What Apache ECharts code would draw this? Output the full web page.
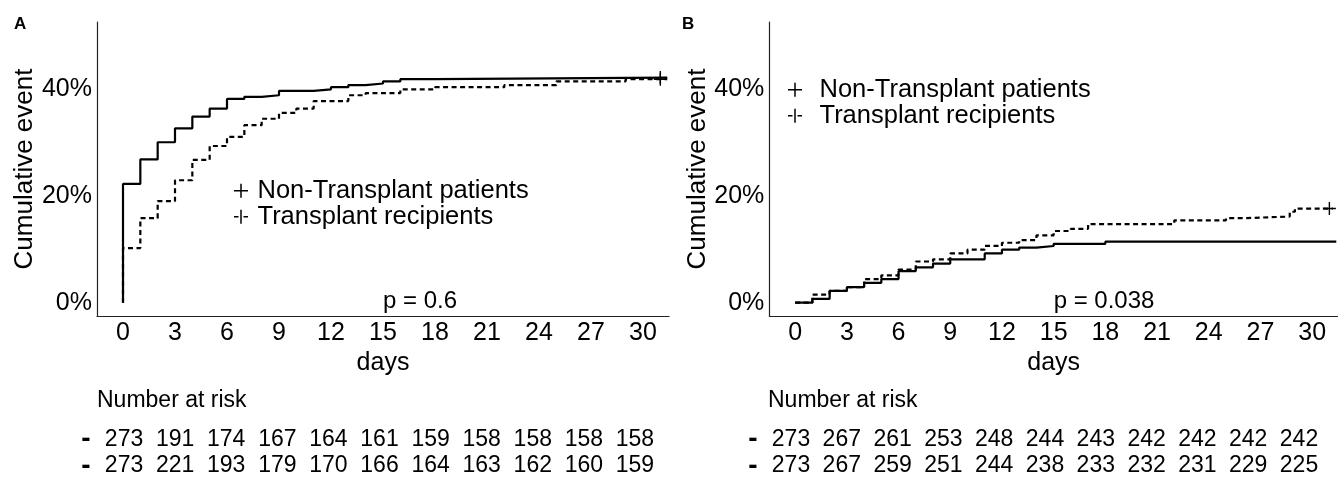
<!DOCTYPE html>
<html>
<head>
<meta charset="utf-8">
<script src="https://cdn.jsdelivr.net/npm/echarts@6/dist/echarts.min.js"></script>
<style>html,body{margin:0;padding:0;background:#fff}#c{width:1338px;height:485px}</style>
</head>
<body>
<div id="c"></div>
<script>
// ---- data ----
const seriesNames = ['Non-Transplant patients', 'Transplant recipients'];
const xTicks = [0, 3, 6, 9, 12, 15, 18, 21, 24, 27, 30];
const yTicks = [0, 20, 40];

// Panel A (cumulative event, %)
const daysA_nonTx = [0, 0, 1, 2, 3, 4, 5, 6, 7, 8, 9, 11, 12, 13, 14, 15, 16, 18, 31.4];
const pctA_nonTx  = [0, 22.2, 26.8, 30.0, 32.6, 34.8, 36.3, 38.1, 38.5, 38.8, 39.6, 39.9, 40.3, 40.7, 41.0, 41.4, 41.8, 42.1, 42.1];
const daysA_tx = [0, 0, 1, 2, 3, 4, 5, 6, 7, 8, 9, 10, 11, 13, 14, 16, 18, 22, 25, 29, 31.4];
const pctA_tx  = [0, 10.2, 15.8, 19.0, 22.9, 26.7, 29.3, 31.0, 33.2, 34.4, 35.5, 36.3, 37.7, 38.8, 39.2, 39.9, 40.3, 40.7, 41.4, 41.8, 41.8];
const censorA = [[31, 42.1], [31, 41.8]];

// Panel B
const daysB_nonTx = [0, 1, 2, 3, 4, 5, 6, 7, 8, 9, 11, 12, 13, 14, 15, 18, 31.4];
const pctB_nonTx  = [0, 0.7, 2.2, 2.9, 3.7, 4.4, 5.9, 6.6, 7.3, 8.1, 9.2, 9.9, 10.3, 10.6, 11.0, 11.4, 11.4];
const daysB_tx = [0, 1, 2, 3, 4, 5, 6, 7, 8, 9, 10, 11, 12, 13, 14, 15, 16, 17, 22, 25, 26, 28.7, 29, 31.2];
const pctB_tx  = [0, 1.5, 2.2, 2.9, 4.4, 5.1, 6.2, 7.7, 8.1, 9.2, 9.9, 10.6, 11.2, 11.7, 12.6, 13.4, 13.8, 14.7, 15.4, 15.8, 16.1, 17.0, 17.6, 17.6];
const censorB = [[31, 17.6]];

const pvalA = 'p = 0.6';
const pvalB = 'p = 0.038';
const pvalPos = [15, 0.3];

// Number at risk
const riskDays = [0, 3, 6, 9, 12, 15, 18, 21, 24, 27, 30];
const riskA_nonTx = [273, 191, 174, 167, 164, 161, 159, 158, 158, 158, 158];
const riskA_tx    = [273, 221, 193, 179, 170, 166, 164, 163, 162, 160, 159];
const riskB_nonTx = [273, 267, 261, 253, 248, 244, 243, 242, 242, 242, 242];
const riskB_tx    = [273, 267, 259, 251, 244, 238, 233, 232, 231, 229, 225];

// ---- chart ----
const FONT = "'Liberation Sans', Arial, Helvetica, sans-serif";
const zip = (a, b) => a.map((v, i) => [v, b[i]]);
const plusSolid = 'path://M0,6.25 H14 V7.75 H0 Z M6.25,0 H7.75 V14 H6.25 Z';
const plusDashed = 'path://M0,6.25 H4.5 V7.75 H0 Z M6.25,0 H7.75 V14 H6.25 Z M9.5,6.25 H14 V7.75 H9.5 Z';

function mainX(gi) {
  return {
    type: 'value', gridIndex: gi, min: -1.5, max: 31.5,
    name: 'days', nameLocation: 'middle', nameGap: 33,
    nameTextStyle: { fontFamily: FONT, fontSize: 25, color: '#000' },
    axisLine: { show: true, onZero: false, lineStyle: { color: '#222', width: 1.2 } },
    axisTick: { show: false },
    splitLine: { show: false },
    axisLabel: { customValues: xTicks, fontFamily: FONT, fontSize: 25, color: '#000', margin: 5 }
  };
}
function mainY(gi) {
  return {
    type: 'value', gridIndex: gi, min: -2.5, max: 52.5,
    name: 'Cumulative event', nameLocation: 'middle', nameGap: 58, nameRotate: 90,
    nameTextStyle: { fontFamily: FONT, fontSize: 26, color: '#000' },
    axisLine: { show: true, onZero: false, lineStyle: { color: '#222', width: 1.2 } },
    axisTick: { show: false },
    splitLine: { show: false },
    axisLabel: { customValues: yTicks, formatter: v => v + '%', fontFamily: FONT, fontSize: 25, color: '#000', margin: 5 }
  };
}
function tableX(gi) {
  return { type: 'value', gridIndex: gi, min: -1.5, max: 31.5, show: false };
}
function tableY(gi) {
  return {
    type: 'category', gridIndex: gi, data: seriesNames, inverse: true,
    axisLine: { show: false }, axisTick: { show: false }, splitLine: { show: false },
    axisLabel: { interval: 0, formatter: () => '-', fontFamily: FONT, fontWeight: 'bold', fontSize: 28, color: '#000', margin: 8 }
  };
}
function curve(name, gi, days, pct, dashed) {
  return {
    type: 'line', name: name, xAxisIndex: gi, yAxisIndex: gi, step: 'end',
    data: zip(days, pct), showSymbol: false, symbol: 'none', silent: true,
    color: '#000',
    lineStyle: { color: '#000', width: 2.2, type: dashed ? [5, 3.5] : 'solid' }
  };
}
function censor(gi, pts) {
  return {
    type: 'scatter', xAxisIndex: gi, yAxisIndex: gi, data: pts, silent: true,
    symbol: plusSolid, symbolSize: 13, itemStyle: { color: '#000', opacity: 1 }
  };
}
function pval(gi, text) {
  return {
    type: 'scatter', xAxisIndex: gi, yAxisIndex: gi, data: [pvalPos], symbolSize: 0, silent: true,
    itemStyle: { opacity: 1 },
    label: { show: true, position: 'inside', align: 'left', formatter: text, fontFamily: FONT, fontSize: 24, color: '#000' }
  };
}
function riskRow(gi, row, values) {
  return {
    type: 'scatter', xAxisIndex: gi, yAxisIndex: gi, symbolSize: 0, silent: true,
    itemStyle: { opacity: 1 },
    data: riskDays.map((d, i) => [d, row, values[i]]),
    label: { show: true, position: 'inside', formatter: p => String(p.value[2]), fontFamily: FONT, fontSize: 23, color: '#000' }
  };
}
function legend(left, top, w) {
  return {
    orient: 'vertical', left: left, top: top, padding: 0, itemGap: 0,
    itemWidth: w, itemHeight: 14,
    data: [{ name: seriesNames[0], icon: plusSolid }, { name: seriesNames[1], icon: plusDashed }],
    textStyle: { fontFamily: FONT, fontSize: 25.5, color: '#000', lineHeight: 24.5 },
    itemStyle: { color: '#000' }, selectedMode: false
  };
}

const chart = echarts.init(document.getElementById('c'), null, { renderer: 'canvas' });
chart.setOption({
  animation: false,
  backgroundColor: '#fff',
  title: [
    { text: 'A', left: 14, top: 16, padding: 0, textStyle: { fontFamily: FONT, fontSize: 17, fontWeight: 'bold', color: '#000' } },
    { text: 'B', left: 682, top: 16, padding: 0, textStyle: { fontFamily: FONT, fontSize: 17, fontWeight: 'bold', color: '#000' } },
    { text: 'Number at risk', left: 97, top: 389, padding: 0, textStyle: { fontFamily: FONT, fontSize: 23, fontWeight: 'normal', color: '#000' } },
    { text: 'Number at risk', left: 768, top: 389, padding: 0, textStyle: { fontFamily: FONT, fontSize: 23, fontWeight: 'normal', color: '#000' } }
  ],
  legend: [legend(234, 177.75, 23), legend(788, 76.75, 39)],
  grid: [
    { left: 97, top: 22, width: 572, height: 294 },
    { left: 769.3, top: 22, width: 572, height: 294 },
    { left: 98.5, top: 426, width: 562, height: 53.2 },
    { left: 765.6, top: 426, width: 558.8, height: 53.2 }
  ],
  xAxis: [mainX(0), mainX(1), tableX(2), tableX(3)],
  yAxis: [mainY(0), mainY(1), tableY(2), tableY(3)],
  series: [
    curve(seriesNames[0], 0, daysA_nonTx, pctA_nonTx, false),
    curve(seriesNames[1], 0, daysA_tx, pctA_tx, true),
    censor(0, censorA),
    pval(0, pvalA),
    curve(seriesNames[0], 1, daysB_nonTx, pctB_nonTx, false),
    curve(seriesNames[1], 1, daysB_tx, pctB_tx, true),
    censor(1, censorB),
    pval(1, pvalB),
    riskRow(2, 0, riskA_nonTx),
    riskRow(2, 1, riskA_tx),
    riskRow(3, 0, riskB_nonTx),
    riskRow(3, 1, riskB_tx)
  ]
});
</script>
</body>
</html>
